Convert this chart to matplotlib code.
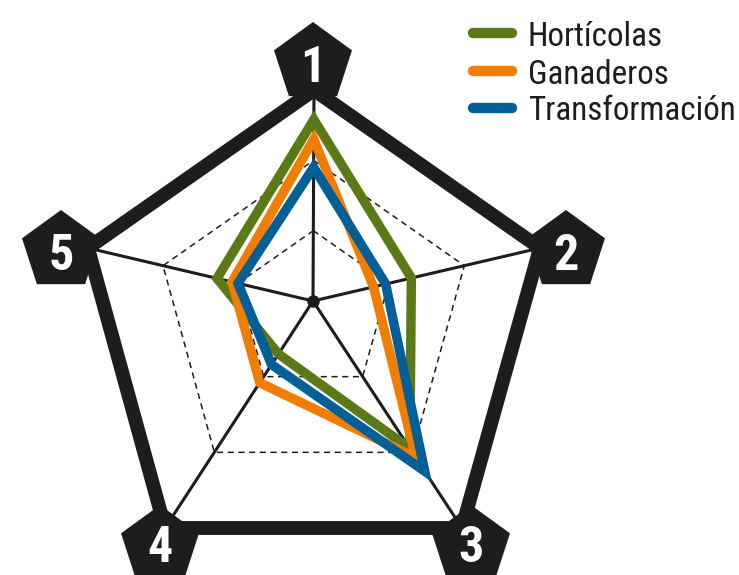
import numpy as np
import matplotlib
matplotlib.use("Agg")
import matplotlib.pyplot as plt
from matplotlib import font_manager
from matplotlib.patches import Polygon
from matplotlib.lines import Line2D

# ---- data ----
axes_labels = ["1", "2", "3", "4", "5"]
series_names = ["Hortícolas", "Ganaderos", "Transformación"]
horticolas = [2.58, 1.30, 1.95, 0.70, 1.28]
ganaderos = [2.30, 0.80, 2.07, 1.08, 1.08]
transformacion = [1.90, 0.96, 2.25, 0.84, 1.00]
scale_max = 3.0
grid_levels = [1.0, 2.0]

colors = ["#5b7a17", "#ef7d00", "#005f96"]
dark = "#1d1d1b"

# ---- pick a condensed font if one is installed ----
def pick_condensed():
    fl = font_manager.fontManager.ttflist
    prefs = ["Liberation Sans Narrow", "Roboto Condensed", "Open Sans Condensed",
             "Noto Sans Condensed", "DejaVu Sans Condensed"]
    names = {f.name for f in fl}
    for p in prefs:
        if p in names:
            return p, "normal"
    for fam in ["Roboto", "Open Sans", "Noto Sans", "DejaVu Sans", "Inter"]:
        for f in fl:
            if f.name == fam and f.stretch in ("condensed", "semi-condensed", "extra-condensed"):
                return fam, f.stretch
    for f in fl:
        if "Condensed" in f.name or "Narrow" in f.name:
            return f.name, "normal"
    return "DejaVu Sans", "normal"

cfam, cstretch = pick_condensed()

# ---- layout (pixel space) ----
W, H = 739, 575
hub = np.array([313.0, 301.0])
vertices = np.array([[314, 90], [540, 248], [462, 528], [165, 528], [88, 248]], dtype=float)
badge_tops = [(313, 22), (566, 210), (471, 505), (160, 505), (61, 210)]
label_offsets = [41, 41, 38, 38, 41]

fig = plt.figure(figsize=(W / 100, H / 100), dpi=100)
ax = fig.add_axes([0, 0, 1, 1])
ax.set_xlim(0, W)
ax.set_ylim(H, 0)
ax.axis("off")

def pt(i, v):
    return hub + (v / scale_max) * (vertices[i] - hub)

# dashed grid pentagons
for lvl in grid_levels:
    pts = np.array([pt(i, lvl) for i in range(5)])
    pts = np.vstack([pts, pts[:1]])
    ax.plot(pts[:, 0], pts[:, 1], color=dark, lw=1.1, ls=(0, (4, 3)), zorder=1)

# spokes
for i in range(5):
    ax.plot([hub[0], vertices[i][0]], [hub[1], vertices[i][1]], color=dark, lw=2.2,
            solid_capstyle="butt", zorder=2)
ax.plot([hub[0]], [hub[1]], "o", color=dark, ms=8, zorder=2)

# outer border
ax.add_patch(Polygon(vertices, closed=True, fill=False, ec=dark, lw=10, joinstyle="miter", zorder=3))

# series
for vals, c in zip([horticolas, ganaderos, transformacion], colors):
    pts = np.array([pt(i, v) for i, v in enumerate(vals)])
    ax.add_patch(Polygon(pts, closed=True, fill=False, ec=c, lw=6.8, joinstyle="miter", zorder=4))

# badges
R = 41
ang = np.deg2rad(90 + 72 * np.arange(5))
for (tx, ty), lab, off in zip(badge_tops, axes_labels, label_offsets):
    cx, cy = tx, ty + R
    bp = np.column_stack([cx + R * np.cos(ang), cy - R * np.sin(ang)])
    ax.add_patch(Polygon(bp, closed=True, fc=dark, ec="none", zorder=5))
    ax.text(cx, ty + off, lab, color="white", fontsize=36, fontweight="bold",
            family=[cfam, "DejaVu Sans"], fontstretch=cstretch,
            ha="center", va="center_baseline", zorder=6)

# legend
leg_y = [33, 71, 108]
texts = []
for name, c, y in zip(series_names, colors, leg_y):
    ax.add_line(Line2D([473, 512], [y, y], color=c, lw=7.5, solid_capstyle="round", zorder=6))
    t = ax.text(528, y, name, color=dark, fontsize=28, family=[cfam, "DejaVu Sans"],
                fontstretch=cstretch, ha="left", va="center_baseline", zorder=6)
    texts.append(t)

# shrink legend text if it would run past the right edge
fig.canvas.draw()
r = fig.canvas.get_renderer()
right = max(t.get_window_extent(r).x1 for t in texts)
if right > W - 3:
    s = 28 * (W - 3 - 528) / (right - 528)
    for t in texts:
        t.set_fontsize(s)

fig.savefig("out.png", dpi=100)
